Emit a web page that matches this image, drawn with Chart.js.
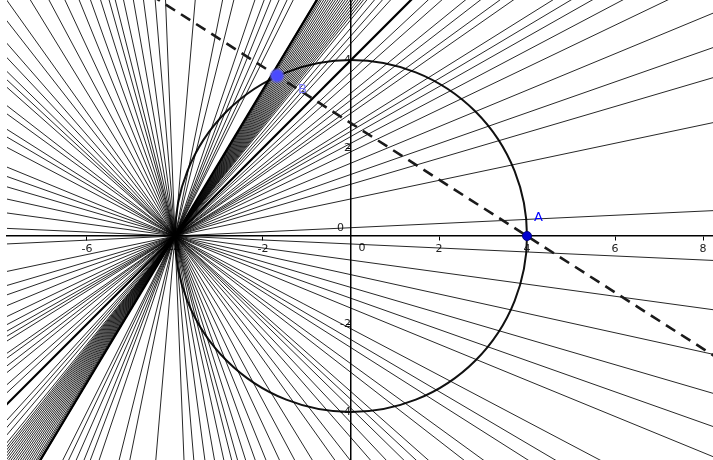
<!DOCTYPE html>
<html>
<head>
<meta charset="utf-8">
<script src="https://cdn.jsdelivr.net/npm/chart.js@4/dist/chart.umd.min.js"></script>
<style>
  html, body { margin: 0; padding: 0; background: #fff; }
  #wrap { width: 713px; height: 460px; }
</style>
</head>
<body>
<div id="wrap"><canvas id="plot" width="713" height="460"></canvas></div>
<script>
// pencil of lines through (-4, 0), direction angles in degrees
const pivot = { x: -4, y: 0 };
const pencilAngles = [
  -87.7, -85.2, -82.4, -80, -77.7, -75.8, -74.4, -72.5, -70.3, -67.9, -65.0,
  -61.9, -58.5, -54.5, -52, -48.9, -46.7, -44.4, -42.9, -41.5, -37.8, -36.0,
  -32.4, -30.5, -27.8, -22.3, -19.5, -16.3, -12.4, -7.8, -2.6,
  2.7, 11.9, 16.4, 19.3, 22.5, 25.6, 27.8, 29.5, 30.8, 32.0, 34.9, 36.0,
  37.7, 39.1, 41.5, 43, 47.6, 48.7, 49.8, 50.9,
  51.4, 51.8, 52.2, 52.6, 53, 53.4, 53.8, 54.2, 54.6, 55, 55.4, 55.8, 56.2,
  56.6, 57, 57.4, 57.8, 58.2, 58.5, 58.8, 59.1,
  63.4, 64.6, 66.2, 67.9, 69.3, 71.3, 76.0, 78.6, 85.1
];
// darker traced lines
const thickAngles = [45, 59.0];

const circleCenter = { x: 0, y: 0 };
const circleRadius = 4;
const pointA = { x: 4, y: 0 };
const pointB = { x: -1.68, y: 3.64 };

const xTicks = [-6, -4, -2, 2, 4, 6, 8];
const yTicks = [-4, -2, 2, 4];
const xRange = [-7.818, 8.227];
const yRange = [-5.091, 5.364];

const font = "'DejaVu Sans', sans-serif";

function lineThrough(p, deg, len) {
  const r = deg * Math.PI / 180;
  return [
    { x: p.x - len * Math.cos(r), y: p.y - len * Math.sin(r) },
    { x: p.x + len * Math.cos(r), y: p.y + len * Math.sin(r) }
  ];
}

function lineAB(a, b, len) {
  const deg = Math.atan2(b.y - a.y, b.x - a.x) * 180 / Math.PI;
  return lineThrough(a, deg, len);
}

function noPad(s) {
  s.paddingTop = 0; s.paddingBottom = 0; s.paddingLeft = 0; s.paddingRight = 0;
}

const datasets = [];
datasets.push({
  data: [pointA], order: 0, pointRadius: 4.5, pointBorderWidth: 1,
  pointBackgroundColor: "#0000d0", pointBorderColor: "#000080", showLine: false
});
datasets.push({
  data: [pointB], order: 0, pointRadius: 6, pointBorderWidth: 3,
  pointBackgroundColor: "#4a4aff", pointBorderColor: "rgba(90,90,230,0.5)", showLine: false
});
datasets.push({
  data: lineAB(pointA, pointB, 40), order: 1, showLine: true, pointRadius: 0,
  borderColor: "#1a1a1a", borderWidth: 2.6, borderDash: [11, 7]
});
thickAngles.forEach(a => {
  datasets.push({
    data: lineThrough(pivot, a, 40), order: 2, showLine: true, pointRadius: 0,
    borderColor: "#000", borderWidth: 2.2
  });
});
pencilAngles.forEach(a => {
  datasets.push({
    data: lineThrough(pivot, a, 40), order: 3, showLine: true, pointRadius: 0,
    borderColor: "rgba(0,0,0,0.85)", borderWidth: 1
  });
});

const geoPlugin = {
  id: "geo",
  beforeDatasetsDraw(chart) {
    const { ctx, scales: { x, y } } = chart;
    const cx = x.getPixelForValue(circleCenter.x);
    const cy = y.getPixelForValue(circleCenter.y);
    const r = x.getPixelForValue(circleCenter.x + circleRadius) - cx;
    ctx.save();
    ctx.beginPath();
    ctx.arc(cx, cy, r, 0, Math.PI * 2);
    ctx.lineWidth = 2;
    ctx.strokeStyle = "#111";
    ctx.stroke();
    // zero labels
    ctx.fillStyle = "#222";
    ctx.font = "11px " + font;
    ctx.textBaseline = "middle";
    ctx.textAlign = "center";
    ctx.fillText("0", cx + 11, cy + 12);
    ctx.textAlign = "right";
    ctx.fillText("0", cx - 7, cy - 8);
    ctx.restore();
  },
  afterDatasetsDraw(chart) {
    const { ctx, scales: { x, y } } = chart;
    ctx.save();
    ctx.font = "13px " + font;
    ctx.textBaseline = "middle";
    ctx.textAlign = "left";
    ctx.fillStyle = "#0000ff";
    ctx.fillText("A", x.getPixelForValue(pointA.x) + 7, y.getPixelForValue(pointA.y) - 18);
    ctx.fillStyle = "#7b7bff";
    ctx.fillText("B", x.getPixelForValue(pointB.x) + 21, y.getPixelForValue(pointB.y) + 14);
    ctx.restore();
  }
};

new Chart(document.getElementById("plot"), {
  type: "scatter",
  data: { datasets },
  options: {
    responsive: false,
    animation: false,
    events: [],
    parsing: false,
    layout: { autoPadding: false, padding: { left: 7, top: 0, right: 0, bottom: 0 } },
    plugins: { legend: { display: false }, tooltip: { enabled: false } },
    scales: {
      x: {
        type: "linear", position: { y: 0 }, min: xRange[0], max: xRange[1],
        afterBuildTicks: s => { s.ticks = xTicks.map(v => ({ value: v })); },
        afterFit: noPad,
        grid: { drawOnChartArea: false, tickLength: 4, color: "#000" },
        border: { color: "#000", width: 1.5 },
        ticks: { color: "#222", font: { family: font, size: 11 }, padding: 3, maxRotation: 0, autoSkip: false }
      },
      y: {
        type: "linear", position: { x: 0 }, min: yRange[0], max: yRange[1],
        afterBuildTicks: s => { s.ticks = yTicks.map(v => ({ value: v })); },
        afterFit: noPad,
        grid: { drawOnChartArea: false, tickLength: 4, color: "#000" },
        border: { color: "#000", width: 1.5 },
        ticks: { color: "#222", font: { family: font, size: 11 }, padding: 6, autoSkip: false }
      }
    }
  },
  plugins: [geoPlugin]
});
</script>
</body>
</html>
